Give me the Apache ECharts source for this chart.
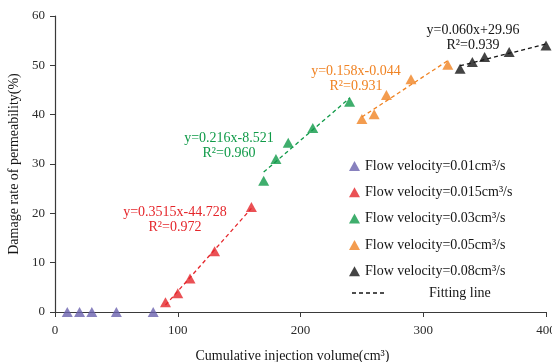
<!DOCTYPE html>
<html><head><meta charset="utf-8">
<script src="https://cdn.jsdelivr.net/npm/echarts@6/dist/echarts.min.js"></script>
<style>html,body{margin:0;padding:0;background:#fff}#c{width:552px;height:362px}</style>
</head><body><div id="c"></div>
<script>
// ---- data ----
var names = ['Flow velocity=0.01cm³/s','Flow velocity=0.015cm³/s','Flow velocity=0.03cm³/s','Flow velocity=0.05cm³/s','Flow velocity=0.08cm³/s'];
var x001 = [10, 20, 30, 50, 80];
var y001 = [0, 0, 0, 0, 0];
var x0015 = [90, 100, 110, 130, 160];
var y0015 = [2.0, 3.8, 6.8, 12.3, 21.3];
var x003 = [170, 180, 190, 210, 240];
var y003 = [26.6, 31.0, 34.3, 37.3, 42.6];
var x005 = [250, 260, 270, 290, 320];
var y005 = [39.1, 40.1, 44.0, 47.2, 50.1];
var x008 = [330, 340, 350, 370, 400];
var y008 = [49.3, 50.7, 51.7, 52.7, 54.0];
var fitLabels = [
  ['y=0.3515x-44.728','R²=0.972'],
  ['y=0.216x-8.521','R²=0.960'],
  ['y=0.158x-0.044','R²=0.931'],
  ['y=0.060x+29.96','R²=0.939']
];
var xTicks = [0, 100, 200, 300, 400];
var yTicks = [0, 10, 20, 30, 40, 50, 60];

// ---- styling ----
var colors = ['#6a62ae', '#e5262b', '#0f9a48', '#f08323', '#151515'];
var FONT = '"Liberation Serif","Times New Roman",serif';

function pairs(xs, ys){ return xs.map(function(v,i){ return [v, ys[i]]; }); }
function fit(xs, ys){
  var n = xs.length, sx=0, sy=0, sxx=0, sxy=0;
  for (var i=0;i<n;i++){ sx+=xs[i]; sy+=ys[i]; sxx+=xs[i]*xs[i]; sxy+=xs[i]*ys[i]; }
  var b = (n*sxy - sx*sy)/(n*sxx - sx*sx), a = (sy - b*sx)/n;
  var x0 = Math.min.apply(null, xs), x1 = Math.max.apply(null, xs);
  return [[x0, a + b*x0], [x1, a + b*x1]];
}

var groups = [[x001,y001],[x0015,y0015],[x003,y003],[x005,y005],[x008,y008]];
var series = [];
groups.forEach(function(g, i){
  series.push({
    name: names[i], type: 'scatter', data: pairs(g[0], g[1]),
    symbol: 'triangle', symbolSize: [11, 10], clip: false, z: 5,
    itemStyle: { color: colors[i] }
  });
});
for (var k=1;k<groups.length;k++){
  series.push({
    type: 'line', data: fit(groups[k][0], groups[k][1]), showSymbol: false, silent: true,
    lineStyle: { color: colors[k], width: 1.3, type: [4, 3] }, z: 3
  });
}

var labelPos = [[175, 212], [229, 138], [356, 71], [473, 30]];
var graphics = [];
fitLabels.forEach(function(lb, i){
  graphics.push({ type: 'text', x: labelPos[i][0], y: labelPos[i][1],
    style: { text: lb[0], fill: colors[i+1], font: '14px ' + FONT, textAlign: 'center', textVerticalAlign: 'middle' } });
  graphics.push({ type: 'text', x: labelPos[i][0], y: labelPos[i][1] + 15,
    style: { text: lb[1], fill: colors[i+1], font: '14px ' + FONT, textAlign: 'center', textVerticalAlign: 'middle' } });
});
graphics.push({ type: 'line', shape: { x1: 352, y1: 293, x2: 384, y2: 293 },
  style: { stroke: '#151515', lineWidth: 1.3, lineDash: [4, 3] } });
graphics.push({ type: 'text', x: 429, y: 293,
  style: { text: 'Fitting line', fill: '#151515', font: '14px ' + FONT, textVerticalAlign: 'middle' } });

var chart = echarts.init(document.getElementById('c'), null, { renderer: 'canvas' });
chart.setOption({
  animation: false,
  backgroundColor: '#fff',
  textStyle: { fontFamily: FONT },
  grid: { left: 55, right: 6, top: 16, bottom: 50, containLabel: false, outerBoundsMode: 'none' },
  legend: {
    orient: 'vertical', left: 344, top: 154, data: names,
    itemWidth: 11, itemHeight: 10, itemGap: 12.3,
    textStyle: { fontFamily: FONT, fontSize: 14, color: '#151515', lineHeight: 14 }
  },
  xAxis: {
    type: 'value', min: xTicks[0], max: xTicks[xTicks.length-1], interval: 100,
    name: 'Cumulative injection volume(cm³)', nameLocation: 'middle', nameGap: 37,
    nameTextStyle: { fontFamily: FONT, fontSize: 14, color: '#151515', padding: [0, 16, 0, 0] },
    axisLine: { lineStyle: { color: '#3a3a3a', width: 1.2 } },
    axisTick: { show: true, length: 5, lineStyle: { color: '#3a3a3a' } },
    axisLabel: { fontFamily: FONT, fontSize: 13, color: '#2a2a2a', margin: 12 },
    splitLine: { show: false }
  },
  yAxis: {
    type: 'value', min: yTicks[0], max: yTicks[yTicks.length-1], interval: 10,
    name: 'Damage rate of permeability(%)', nameLocation: 'middle', nameGap: 34,
    nameTextStyle: { fontFamily: FONT, fontSize: 14, color: '#151515' },
    axisLine: { show: true, lineStyle: { color: '#3a3a3a', width: 1.2 } },
    axisTick: { show: true, length: 5, lineStyle: { color: '#3a3a3a' } },
    axisLabel: { fontFamily: FONT, fontSize: 13, color: '#2a2a2a', margin: 10 },
    splitLine: { show: false }
  },
  series: series,
  graphic: graphics
});
</script></body></html>
